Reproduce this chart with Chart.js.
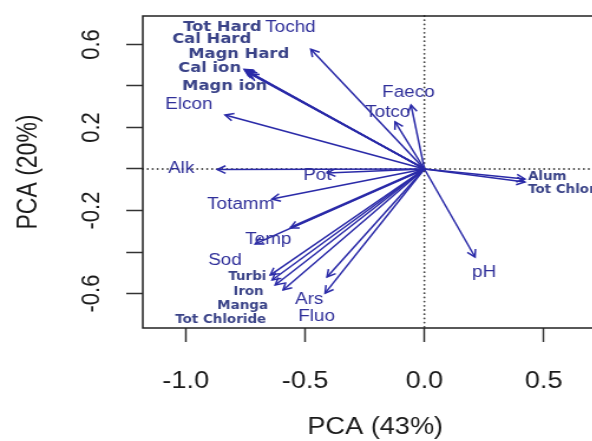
<!DOCTYPE html>
<html>
<head>
<meta charset="utf-8">
<script src="https://cdn.jsdelivr.net/npm/chart.js@4/dist/chart.umd.min.js"></script>
<style>
  html, body { margin: 0; padding: 0; background: #fff; overflow: hidden; }
  /* the reference is a horizontally stretched R plot, so the whole canvas is stretched the same way */
  #wrap { width: 520px; height: 441px; transform: scaleX(1.18); transform-origin: 0 0; }
</style>
</head>
<body>
<div id="wrap"><canvas id="pca" width="520" height="441" style="width:520px;height:441px"></canvas></div>
<script>
// Loadings (PC1, PC2)
const varNames = ['Tochd', 'Tot Hard', 'Cal Hard', 'Magn Hard', 'Cal ion', 'Magn ion', 'Elcon', 'Alk',
  'Pot', 'Totamm', 'Sod', 'Temp', 'Turbi', 'Iron', 'Manga', 'Tot Chloride', 'Ars', 'Fluo',
  'Faeco', 'Totco', 'Alum', 'Tot Chlorine', 'pH'];
const loadX = [-0.476, -0.751, -0.747, -0.739, -0.755, -0.730, -0.835, -0.868,
  -0.408, -0.639, -0.562, -0.709, -0.646, -0.638, -0.625, -0.592, -0.408, -0.416,
  -0.056, -0.123, 0.421, 0.421, 0.212];
const loadY = [0.577, 0.477, 0.472, 0.467, 0.480, 0.458, 0.260, -0.003,
  -0.019, -0.145, -0.284, -0.361, -0.511, -0.535, -0.559, -0.583, -0.520, -0.598,
  0.308, 0.227, -0.048, -0.063, -0.424];

// where each name is written (left edge, middle), in PCA units
const labelX = [-0.667, -1.011, -1.057, -0.990, -1.032, -1.015, -1.086, -1.074,
  -0.508, -0.910, -0.906, -0.751, -0.822, -0.801, -0.868, -1.044, -0.542, -0.529,
  -0.177, -0.248, 0.434, 0.434, 0.200];
const labelY = [0.680, 0.684, 0.622, 0.554, 0.487, 0.400, 0.308, 0.000,
  -0.034, -0.173, -0.439, -0.342, -0.520, -0.593, -0.660, -0.728, -0.627, -0.713,
  0.366, 0.270, -0.039, -0.101, -0.501];

const xTicks = [-1.0, -0.5, 0.0, 0.5];
const yTicks = [-0.6, -0.4, -0.2, 0.0, 0.2, 0.4, 0.6];
const yTickLabels = ['-0.6', '', '-0.2', '', '0.2', '', '0.6'];

const xTitle = 'PCA (43%)';
const yTitle = 'PCA (20%)';

// styles
const arrowColor = '#2a2aa8';
const labelColor = '#30309a';
const boldColor = '#3a4388';
const axisColor = '#222';
const boldLarge = ['Tot Hard', 'Cal Hard', 'Magn Hard', 'Cal ion', 'Magn ion'];
const boldSmall = ['Turbi', 'Iron', 'Manga', 'Tot Chloride', 'Alum', 'Tot Chlorine'];
const thickArrows = ['Sod'];

function labelFont(name) {
  if (boldLarge.includes(name)) return { font: 'bold 13.9px "DejaVu Sans"', color: boldColor };
  if (boldSmall.includes(name)) return { font: 'bold 11.4px "DejaVu Sans"', color: boldColor };
  return { font: '16px "Liberation Sans", Arial, sans-serif', color: labelColor };
}

const datasets = varNames.map((name, i) => ({
  label: name,
  data: [{ x: 0, y: 0 }, { x: loadX[i], y: loadY[i] }],
  showLine: true,
  borderColor: arrowColor,
  borderWidth: thickArrows.includes(name) ? 2.5 : 1.5,
  pointRadius: 0,
  pointHoverRadius: 0,
}));

const biplotDecor = {
  id: 'biplotDecor',
  beforeDatasetsDraw(chart) {
    const { ctx, chartArea, scales: { x, y } } = chart;
    ctx.save();
    ctx.strokeStyle = '#444';
    ctx.lineWidth = 1.8;
    ctx.lineCap = 'round';
    ctx.setLineDash([0, 4.2]);
    const y0 = y.getPixelForValue(0);
    const x0 = x.getPixelForValue(0);
    ctx.beginPath();
    ctx.moveTo(chartArea.left, y0);
    ctx.lineTo(chartArea.right, y0);
    ctx.moveTo(x0, chartArea.top);
    ctx.lineTo(x0, chartArea.bottom);
    ctx.stroke();
    ctx.restore();
  },
  afterDatasetsDraw(chart) {
    const { ctx, chartArea, scales: { x, y } } = chart;
    ctx.save();
    // arrow heads
    const x0 = x.getPixelForValue(0);
    const y0 = y.getPixelForValue(0);
    ctx.strokeStyle = arrowColor;
    ctx.lineWidth = 1.5;
    varNames.forEach((name, i) => {
      const tx = x.getPixelForValue(loadX[i]);
      const ty = y.getPixelForValue(loadY[i]);
      const ang = Math.atan2(ty - y0, tx - x0);
      const len = 8;
      const spread = 0.5;
      ctx.beginPath();
      ctx.moveTo(tx - len * Math.cos(ang - spread), ty - len * Math.sin(ang - spread));
      ctx.lineTo(tx, ty);
      ctx.lineTo(tx - len * Math.cos(ang + spread), ty - len * Math.sin(ang + spread));
      ctx.stroke();
    });
    // variable names
    ctx.textAlign = 'left';
    ctx.textBaseline = 'middle';
    varNames.forEach((name, i) => {
      const f = labelFont(name);
      ctx.font = f.font;
      ctx.fillStyle = f.color;
      ctx.fillText(name, x.getPixelForValue(labelX[i]), y.getPixelForValue(labelY[i]));
    });
    // box
    ctx.strokeStyle = axisColor;
    ctx.lineWidth = 1.5;
    ctx.strokeRect(chartArea.left, chartArea.top, chartArea.right - chartArea.left, chartArea.bottom - chartArea.top);
    // rotated y tick labels (R style)
    ctx.fillStyle = '#1a1a1a';
    ctx.font = '22px "Liberation Sans", Arial, sans-serif';
    ctx.textAlign = 'center';
    yTicks.forEach((v, i) => {
      if (!yTickLabels[i]) return;
      ctx.save();
      ctx.translate(78, y.getPixelForValue(v));
      ctx.rotate(-Math.PI / 2);
      ctx.fillText(yTickLabels[i], 0, 0);
      ctx.restore();
    });
    ctx.restore();
  },
};

new Chart(document.getElementById('pca'), {
  type: 'scatter',
  data: { datasets },
  plugins: [biplotDecor],
  options: {
    responsive: false,
    animation: false,
    devicePixelRatio: 1,
    layout: { padding: { top: 16, right: 5, left: 0, bottom: 0 } },
    plugins: { legend: { display: false }, tooltip: { enabled: false } },
    scales: {
      x: {
        type: 'linear',
        min: -1.18,
        max: 0.768,
        afterBuildTicks: (scale) => { scale.ticks = xTicks.map((v) => ({ value: v })); },
        afterFit: (scale) => { scale.height = 113; },
        grid: { display: true, drawOnChartArea: false, drawTicks: true, tickLength: 14, tickColor: '#333', tickWidth: 1.5 },
        border: { display: false },
        ticks: {
          padding: 26,
          color: '#1a1a1a',
          font: { family: '"Liberation Sans", Arial, sans-serif', size: 23 },
          maxRotation: 0,
          autoSkip: false,
          callback: (v) => Number(v).toFixed(1),
        },
        title: {
          display: true,
          text: xTitle,
          color: '#1a1a1a',
          font: { family: '"Liberation Sans", Arial, sans-serif', size: 23 },
          padding: { top: 0, bottom: 0 },
        },
      },
      y: {
        type: 'linear',
        min: -0.766,
        max: 0.737,
        afterBuildTicks: (scale) => { scale.ticks = yTicks.map((v) => ({ value: v })); },
        afterFit: (scale) => { scale.width = 121; },
        grid: { display: true, drawOnChartArea: false, drawTicks: true, tickLength: 14, tickColor: '#333', tickWidth: 1.5 },
        border: { display: false },
        ticks: { display: false },
        title: {
          display: true,
          text: yTitle,
          color: '#1a1a1a',
          font: { family: '"Liberation Sans", Arial, sans-serif', size: 23 },
          padding: { top: 11, bottom: 0 },
        },
      },
    },
  },
});
</script>
</body>
</html>
